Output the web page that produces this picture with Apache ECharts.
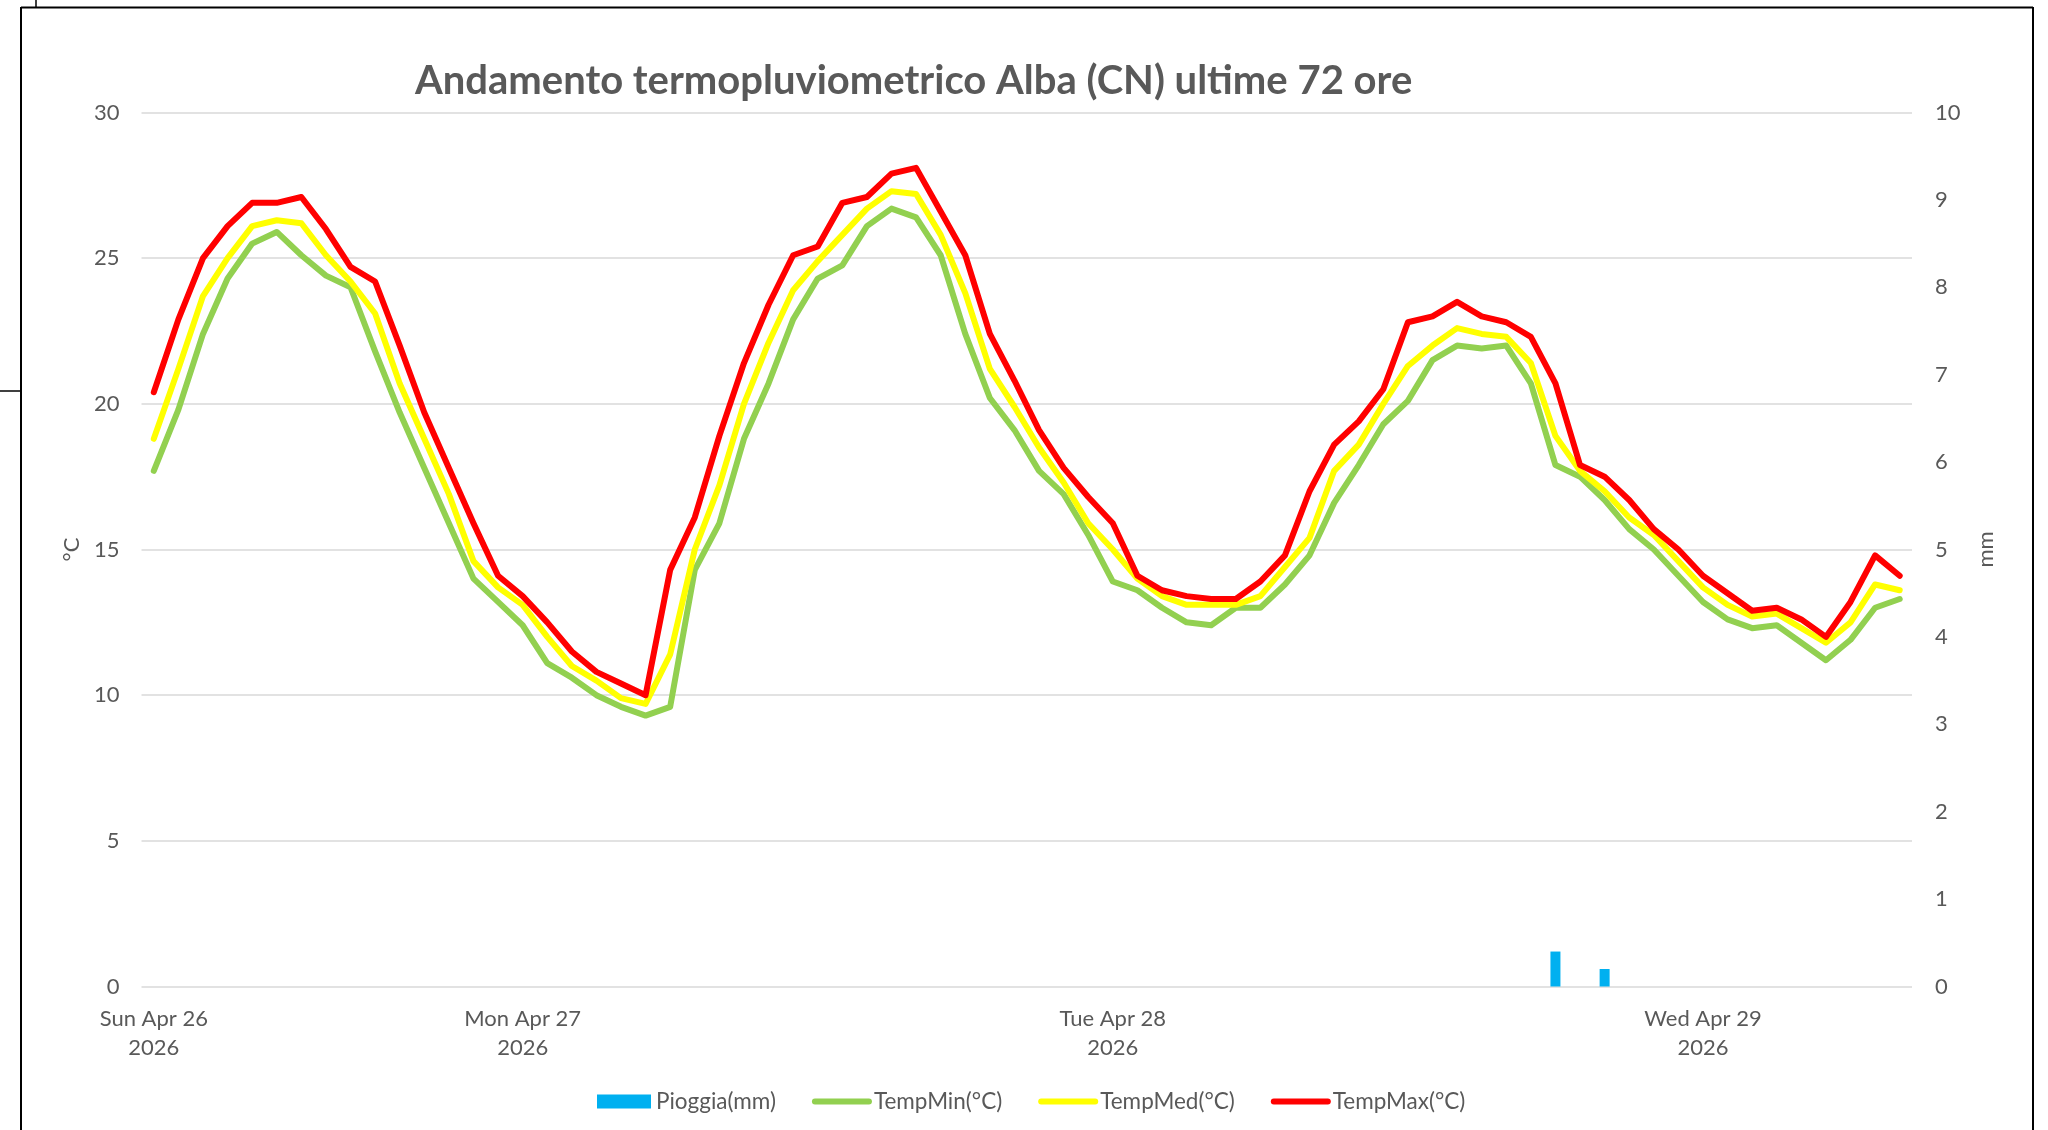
<!DOCTYPE html>
<html>
<head>
<meta charset="utf-8">
<script src="https://cdn.jsdelivr.net/npm/echarts@6/dist/echarts.min.js"></script>
<style>
html,body{margin:0;padding:0;background:#fff;}
#chart{width:2048px;height:1130px;}
</style>
</head>
<body>
<div id="chart"></div>
<script>
// ---- data ----
const titleText = 'Andamento termopluviometrico Alba (CN) ultime 72 ore';
const startDay = 26, startHour = 9, hourCount = 72;
const dayLabels = ['Sun Apr 26', 'Mon Apr 27', 'Tue Apr 28', 'Wed Apr 29'];
const dayLabelIndex = [0, 15, 39, 63];
const yearLabel = '2026';
const leftTicks = { min: 0, max: 30, interval: 5 };
const rightTicks = { min: 0, max: 10, interval: 1 };

const tempMax = [20.4, 22.9, 25.0, 26.1, 26.9, 26.9, 27.1, 26.0, 24.7, 24.2, 22.0, 19.7, 17.8, 15.9, 14.1,
  13.4, 12.5, 11.5, 10.8, 10.4, 10.0, 14.3, 16.1, 18.9, 21.4, 23.4, 25.1, 25.4, 26.9,
  27.1, 27.9, 28.1, 26.6, 25.1, 22.4, 20.8, 19.1, 17.8, 16.8, 15.9, 14.1, 13.6, 13.4,
  13.3, 13.3, 13.9, 14.8, 17.0, 18.6, 19.4, 20.5, 22.8, 23.0, 23.5, 23.0, 22.8, 22.3,
  20.7, 17.9, 17.5, 16.7, 15.7, 15.0, 14.1, 13.5, 12.9, 13.0, 12.6, 12.0, 13.2, 14.8, 14.1];

const tempMed = [18.8, 21.2, 23.7, 25.0, 26.1, 26.3, 26.2, 25.1, 24.2, 23.1, 20.7, 18.8, 16.9, 14.6, 13.7,
  13.1, 12.0, 11.0, 10.5, 9.9, 9.7, 11.4, 15.0, 17.2, 20.0, 22.1, 23.9, 24.9, 25.8,
  26.7, 27.3, 27.2, 25.8, 23.8, 21.2, 19.9, 18.5, 17.3, 15.9, 15.0, 14.0, 13.4, 13.1,
  13.1, 13.1, 13.4, 14.4, 15.4, 17.7, 18.6, 20.0, 21.3, 22.0, 22.6, 22.4, 22.3, 21.4,
  18.9, 17.7, 17.0, 16.1, 15.5, 14.6, 13.7, 13.1, 12.7, 12.8, 12.3, 11.8, 12.5, 13.8, 13.6];

const tempMin = [17.7, 19.8, 22.4, 24.3, 25.5, 25.9, 25.1, 24.4, 24.0, 21.8, 19.7, 17.8, 15.9, 14.0, 13.2,
  12.4, 11.1, 10.6, 10.0, 9.6, 9.3, 9.6, 14.3, 15.9, 18.8, 20.7, 22.9, 24.3, 24.75,
  26.1, 26.7, 26.4, 25.1, 22.4, 20.2, 19.1, 17.7, 16.9, 15.5, 13.9, 13.6, 13.0, 12.5,
  12.4, 13.0, 13.0, 13.8, 14.8, 16.6, 17.9, 19.3, 20.1, 21.5, 22.0, 21.9, 22.0, 20.7,
  17.9, 17.5, 16.7, 15.7, 15.0, 14.1, 13.2, 12.6, 12.3, 12.4, 11.8, 11.2, 11.9, 13.0, 13.3];

const pioggia = [0, 0, 0, 0, 0, 0, 0, 0, 0, 0, 0, 0, 0, 0, 0,
  0, 0, 0, 0, 0, 0, 0, 0, 0, 0, 0, 0, 0, 0,
  0, 0, 0, 0, 0, 0, 0, 0, 0, 0, 0, 0, 0, 0,
  0, 0, 0, 0, 0, 0, 0, 0, 0, 0, 0, 0, 0, 0,
  0.4, 0, 0.2, 0, 0, 0, 0, 0, 0, 0, 0, 0, 0, 0, 0];

// hourly category names
const categories = [];
for (let i = 0; i < hourCount; i++) {
  const h = startHour + i;
  const d = startDay + Math.floor(h / 24);
  const hh = h % 24;
  categories.push(d + '/04/2026 ' + (hh < 10 ? '0' : '') + hh + ':00');
}

const FONT = 'Lato, "Open Sans", sans-serif';
const GREY = '#595959';
const LW = 6;

const chart = echarts.init(document.getElementById('chart'), null, { renderer: 'canvas' });
chart.setOption({
  animation: false,
  backgroundColor: '#ffffff',
  title: {
    text: titleText,
    left: 415,
    top: 61,
    padding: 0,
    textStyle: { fontFamily: FONT, fontSize: 40, fontWeight: 'bold', color: GREY }
  },
  legend: {
    bottom: 17,
    left: 597,
    padding: 0,
    itemWidth: 54,
    itemHeight: 14,
    itemGap: 36,
    textStyle: { fontFamily: FONT, fontSize: 22.5, color: GREY },
    lineStyle: { width: 6, cap: 'round' },
    data: [
      { name: 'Pioggia(mm)', icon: 'rect' },
      { name: 'TempMin(°C)', itemStyle: { opacity: 0 } },
      { name: 'TempMed(°C)', itemStyle: { opacity: 0 } },
      { name: 'TempMax(°C)', itemStyle: { opacity: 0 } }
    ]
  },
  grid: { left: 141.5, right: 136, top: 112.5, bottom: 143.5 },
  xAxis: {
    type: 'category',
    data: categories,
    boundaryGap: true,
    axisLine: { show: false },
    axisTick: { show: false },
    axisLabel: {
      interval: function (index) { return dayLabelIndex.indexOf(index) >= 0; },
      formatter: function (value, index) {
        const k = dayLabelIndex.indexOf(index);
        return k >= 0 ? dayLabels[k] + '\n' + yearLabel : '';
      },
      margin: 18,
      lineHeight: 29,
      fontFamily: FONT,
      fontSize: 22,
      color: GREY
    },
    splitLine: { show: false }
  },
  yAxis: [
    {
      type: 'value',
      min: leftTicks.min, max: leftTicks.max, interval: leftTicks.interval,
      name: '°C',
      nameLocation: 'middle',
      nameRotate: 90,
      nameGap: 57,
      nameTextStyle: { fontFamily: FONT, fontSize: 22, color: GREY },
      axisLine: { show: false },
      axisTick: { show: false },
      axisLabel: { margin: 22, fontFamily: FONT, fontSize: 22, color: GREY },
      splitLine: { show: true, lineStyle: { color: '#d9d9d9', width: 1.5 } }
    },
    {
      type: 'value',
      position: 'right',
      min: rightTicks.min, max: rightTicks.max, interval: rightTicks.interval,
      name: 'mm',
      nameLocation: 'middle',
      nameRotate: 90,
      nameGap: 63,
      nameTextStyle: { fontFamily: FONT, fontSize: 22, color: GREY },
      axisLine: { show: false },
      axisTick: { show: false },
      axisLabel: { margin: 23, fontFamily: FONT, fontSize: 22, color: GREY },
      splitLine: { show: false }
    }
  ],
  series: [
    {
      name: 'Pioggia(mm)', type: 'bar', yAxisIndex: 1, data: pioggia,
      barWidth: 10, itemStyle: { color: '#00B0F0' }
    },
    {
      name: 'TempMin(°C)', type: 'line', yAxisIndex: 0, data: tempMin,
      symbol: 'none', color: '#92D050',
      lineStyle: { width: LW, color: '#92D050', cap: 'round', join: 'round' }
    },
    {
      name: 'TempMed(°C)', type: 'line', yAxisIndex: 0, data: tempMed,
      symbol: 'none', color: '#FFFF00',
      lineStyle: { width: LW, color: '#FFFF00', cap: 'round', join: 'round' }
    },
    {
      name: 'TempMax(°C)', type: 'line', yAxisIndex: 0, data: tempMax,
      symbol: 'none', color: '#FF0000',
      lineStyle: { width: LW, color: '#FF0000', cap: 'round', join: 'round' }
    }
  ],
  graphic: [
    { type: 'line', shape: { x1: 21, y1: 7.5, x2: 2033, y2: 7.5 }, style: { stroke: '#000', lineWidth: 2 }, silent: true },
    { type: 'line', shape: { x1: 21, y1: 7, x2: 21, y2: 1130 }, style: { stroke: '#000', lineWidth: 2 }, silent: true },
    { type: 'line', shape: { x1: 2033, y1: 7, x2: 2033, y2: 1130 }, style: { stroke: '#000', lineWidth: 2 }, silent: true },
    { type: 'line', shape: { x1: 36, y1: 0, x2: 36, y2: 7 }, style: { stroke: '#000', lineWidth: 1.5 }, silent: true },
    { type: 'line', shape: { x1: 0, y1: 391, x2: 21, y2: 391 }, style: { stroke: '#000', lineWidth: 1.5 }, silent: true }
  ]
});
</script>
</body>
</html>
